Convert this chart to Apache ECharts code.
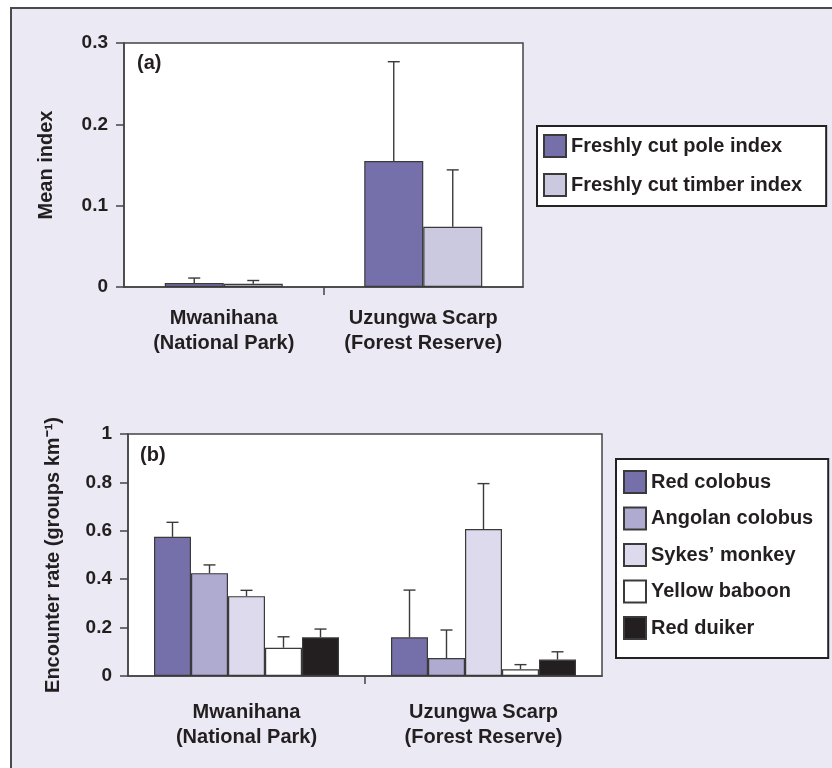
<!DOCTYPE html>
<html>
<head>
<meta charset="utf-8">
<script src="https://cdn.jsdelivr.net/npm/echarts@6/dist/echarts.min.js"></script>
<style>
html,body{margin:0;padding:0;background:#fff;}
#wrap{position:relative;width:832px;height:768px;overflow:hidden;}
#bg{position:absolute;left:10px;top:7px;width:840px;height:780px;background:#ebe9f3;border:2px solid #4a4a4a;}
#main{position:absolute;left:0;top:0;width:832px;height:768px;}
</style>
</head>
<body>
<div id="wrap"><div id="bg"></div><div id="main"></div></div>
<script>
// ---- data ----
const sites = ['Mwanihana\n(National Park)', 'Uzungwa Scarp\n(Forest Reserve)'];

const seriesA = ['Freshly cut pole index', 'Freshly cut timber index'];
const poleMean = [0.005, 0.155];
const poleSE = [0.006, 0.122];
const timberMean = [0.004, 0.074];
const timberSE = [0.004, 0.070];

const seriesB = ['Red colobus', 'Angolan colobus', "Sykes\u2019 monkey", 'Yellow baboon', 'Red duiker'];
const redColobus = [0.575, 0.160];
const redColobusSE = [0.060, 0.195];
const angolanColobus = [0.425, 0.074];
const angolanColobusSE = [0.034, 0.116];
const sykesMonkey = [0.330, 0.607];
const sykesMonkeySE = [0.024, 0.188];
const yellowBaboon = [0.117, 0.028];
const yellowBaboonSE = [0.045, 0.019];
const redDuiker = [0.160, 0.068];
const redDuikerSE = [0.034, 0.032];

const yTicksA = { min: 0, max: 0.3, interval: 0.1 };
const yTicksB = { min: 0, max: 1, interval: 0.2 };

// ---- styles ----
const FONT = '"Liberation Sans", Arial, Helvetica, sans-serif';
const TXT = '#231f20';
const colorsA = ['#7670aa', '#cbc9e0'];
const colorsB = ['#7670aa', '#aeaad0', '#dcdaec', '#ffffff', '#231f20'];
const BW_A = 59, BW_B = 37;

const meansA = [poleMean, timberMean], sesA = [poleSE, timberSE];
const meansB = [redColobus, angolanColobus, sykesMonkey, yellowBaboon, redDuiker];
const sesB = [redColobusSE, angolanColobusSE, sykesMonkeySE, yellowBaboonSE, redDuikerSE];

function barSeries(names, means, colors, axisIdx, bw) {
  return names.map((n, i) => ({
    name: n, type: 'bar', xAxisIndex: axisIdx, yAxisIndex: axisIdx,
    data: means[i], barWidth: bw, barGap: '0%',
    itemStyle: { color: colors[i], borderColor: '#3a3a3a', borderWidth: 1.2 },
    emphasis: { disabled: true }, z: 2
  }));
}

function errSeries(means, ses, axisIdx, bw) {
  const data = [];
  means.forEach((m, s) => m.forEach((v, c) => data.push([c, v, ses[s][c], s])));
  const n = means.length;
  return {
    type: 'custom', xAxisIndex: axisIdx, yAxisIndex: axisIdx, z: 3,
    data: data, silent: true,
    renderItem: function (params, api) {
      const c = api.value(0), v = api.value(1), e = api.value(2), s = api.value(3);
      const p0 = api.coord([c, v]);
      const p1 = api.coord([c, v + e]);
      const x = p0[0] + (s - (n - 1) / 2) * bw;
      const st = { stroke: '#3a3a3a', lineWidth: 1.4 };
      return {
        type: 'group', children: [
          { type: 'line', shape: { x1: x, y1: p0[1], x2: x, y2: p1[1] }, style: st },
          { type: 'line', shape: { x1: x - 6, y1: p1[1], x2: x + 6, y2: p1[1] }, style: st }
        ]
      };
    }
  };
}

function xAxis(gridIdx, margin) {
  return {
    type: 'category', gridIndex: gridIdx, data: sites,
    axisLine: { show: true, lineStyle: { color: '#444', width: 1.5 } },
    axisTick: { show: false },
    axisLabel: { interval: 0, margin: margin, fontSize: 20, fontWeight: 'bold', color: TXT, fontFamily: FONT, lineHeight: 25 }
  };
}

// helper axis that only carries the single tick between the two sites
function tickAxis(gridIdx) {
  return {
    type: 'value', gridIndex: gridIdx, min: 0, max: 2, position: 'bottom',
    axisLine: { show: false },
    axisLabel: { show: false },
    splitLine: { show: false },
    axisTick: { show: true, length: 8, customValues: [1], lineStyle: { color: '#444', width: 1.5 } }
  };
}

function yAxis(gridIdx, ticks, name, gap) {
  return {
    type: 'value', gridIndex: gridIdx, min: ticks.min, max: ticks.max, interval: ticks.interval,
    name: name, nameLocation: 'middle', nameGap: gap, nameRotate: 90,
    nameTextStyle: { fontSize: 20, fontWeight: 'bold', color: TXT, fontFamily: FONT },
    axisLine: { show: true, lineStyle: { color: '#444', width: 1.5 } },
    axisTick: { show: true, length: 8, lineStyle: { color: '#444', width: 1.5 } },
    axisLabel: { margin: 16, fontSize: 19, fontWeight: 'bold', color: TXT, fontFamily: FONT },
    splitLine: { show: false }
  };
}

const legendText = { fontSize: 20, fontWeight: 'bold', color: TXT, fontFamily: FONT };

const option = {
  backgroundColor: 'transparent',
  animation: false,
  textStyle: { fontFamily: FONT },
  grid: [
    { left: 124, top: 43, width: 399, height: 244, show: true, backgroundColor: '#fff', borderColor: '#444', borderWidth: 1.5 },
    { left: 128, top: 434, width: 474, height: 242, show: true, backgroundColor: '#fff', borderColor: '#444', borderWidth: 1.5 }
  ],
  xAxis: [xAxis(0, 19), xAxis(1, 24), tickAxis(0), tickAxis(1)],
  yAxis: [yAxis(0, yTicksA, 'Mean index', 68), yAxis(1, yTicksB, 'Encounter rate (groups km\u207B\u00B9)', 65)],
  legend: [
    {
      data: seriesA, orient: 'vertical', left: 537, top: 126,
      padding: [8, 24, 9, 6], itemGap: 15, itemWidth: 22, itemHeight: 22,
      backgroundColor: '#fff', borderColor: '#222', borderWidth: 2,
      icon: 'rect', textStyle: legendText, selectedMode: false
    },
    {
      data: seriesB, orient: 'vertical', left: 616, top: 459,
      padding: [11, 15, 18, 7], itemGap: 12.5, itemWidth: 22, itemHeight: 22,
      backgroundColor: '#fff', borderColor: '#222', borderWidth: 2,
      icon: 'rect', textStyle: legendText, selectedMode: false
    }
  ],
  graphic: [
    { type: 'text', left: 137, top: 53, z: 10, style: { text: '(a)', fill: TXT, font: 'bold 20px ' + FONT } },
    { type: 'text', left: 140, top: 445, z: 10, style: { text: '(b)', fill: TXT, font: 'bold 20px ' + FONT } }
  ],
  series: [].concat(
    barSeries(seriesA, meansA, colorsA, 0, BW_A),
    [errSeries(meansA, sesA, 0, BW_A)],
    barSeries(seriesB, meansB, colorsB, 1, BW_B),
    [errSeries(meansB, sesB, 1, BW_B)]
  )
};

const chart = echarts.init(document.getElementById('main'), null, { renderer: 'canvas' });
chart.setOption(option);
</script>
</body>
</html>
